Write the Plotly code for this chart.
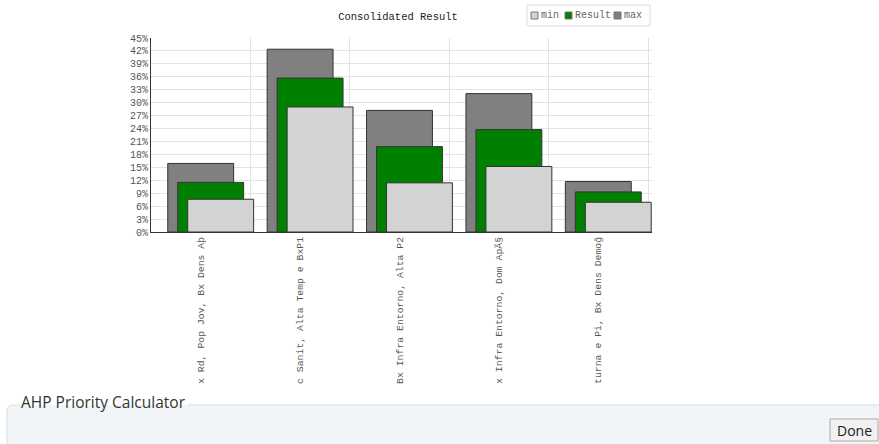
import plotly.graph_objects as go

categories = [
    "x Rd, Pop Jov, Bx Dens Aþ",
    "c Sanit, Alta Temp e BxP1",
    "Bx Infra Entorno, Alta P2",
    "x Infra Entorno, Dom ApÃ§",
    "turna e Pi, Bx Dens Demoğ",
]
max_vals = [15.9, 42.4, 28.2, 32.1, 11.7]
result_vals = [11.5, 35.7, 19.8, 23.75, 9.3]
min_vals = [7.6, 29.0, 11.4, 15.2, 6.9]
y_ticks = list(range(0, 46, 3))

W, H = 879, 444
L, R, T, B = 151, 652, 38, 232  # plot area in pixels
cat_px = 99.4
extra = (R - 648) / cat_px

def px(x):
    return (x - L) / (R - L)

def py(y):
    return (B - y) / (B - T)

idx = list(range(len(categories)))
mono = "Liberation Mono"
bw = 0.663
step = 0.1005

fig = go.Figure()
series = [("max", max_vals, "#808080", -bw / 2),
          ("Result", result_vals, "#008000", -bw / 2 + step),
          ("min", min_vals, "#d3d3d3", -bw / 2 + 2 * step)]
for name, vals, col, off in series:
    fig.add_trace(go.Bar(
        x=idx, y=vals, name=name, width=bw, offset=off, showlegend=False,
        marker=dict(color=col, line=dict(color="#333333", width=1)),
    ))

fig.update_layout(
    width=W, height=H,
    margin=dict(l=L, r=W - R, t=T, b=H - B),
    paper_bgcolor="white", plot_bgcolor="white",
    barmode="overlay",
    title=dict(text="Consolidated Result", x=px(398), xref="paper", xanchor="center",
               y=1 - 16 / H, yanchor="middle",
               font=dict(family=mono, size=10.5, color="#222")),
    xaxis=dict(range=[-0.5, len(categories) - 0.5 + extra], tickmode="array", tickvals=idx,
               ticktext=categories, tickangle=-90, showgrid=False, zeroline=False,
               showline=True, linecolor="#333", linewidth=1,
               tickfont=dict(family=mono, size=9.8, color="#555"),
               minor=dict(tickmode="linear", tick0=0.5, dtick=1, showgrid=True,
                          gridcolor="#e3e3e3", gridwidth=1)),
    yaxis=dict(range=[0, 45], tickmode="array", tickvals=y_ticks,
               ticktext=[f"{v}%" for v in y_ticks], showgrid=True, gridcolor="#e3e3e3",
               zeroline=False, showline=True, linecolor="#333", linewidth=1,
               tickfont=dict(family=mono, size=10, color="#555")),
)

# Custom legend
fig.add_shape(type="rect", xref="paper", yref="paper", x0=px(527), x1=px(650),
              y0=py(26), y1=py(5), fillcolor="white", line=dict(color="#dddddd", width=1))
legend_items = [("min", "#d3d3d3", 531), ("Result", "#008000", 565), ("max", "#808080", 614)]
for name, col, x0 in legend_items:
    fig.add_shape(type="rect", xref="paper", yref="paper", x0=px(x0), x1=px(x0 + 7),
                  y0=py(19), y1=py(12), fillcolor=col, line=dict(color="#777", width=1))
    fig.add_annotation(text=name, xref="paper", yref="paper", x=px(x0 + 8), y=py(15.5),
                       xanchor="left", yanchor="middle", showarrow=False,
                       font=dict(family=mono, size=10, color="#666"))

# Fieldset box at bottom
fx0, fy0, fx1, fy1, r = 7, 405, 900, 470, 6
path = (f"M {px(18)},{py(fy0)} L {px(fx0 + r)},{py(fy0)} "
        f"Q {px(fx0)},{py(fy0)} {px(fx0)},{py(fy0 + r)} "
        f"L {px(fx0)},{py(fy1)} L {px(fx1)},{py(fy1)} L {px(fx1)},{py(fy0)} "
        f"L {px(188)},{py(fy0)}")
fig.add_shape(type="path", xref="paper", yref="paper", path=path,
              fillcolor="#f2f5f8", line=dict(color="#d8dde2", width=1), layer="below")
fig.add_annotation(text="AHP Priority Calculator", xref="paper", yref="paper",
                   x=px(19), y=py(402), xanchor="left", yanchor="middle", showarrow=False,
                   font=dict(family="Open Sans", size=15.5, color="#333"))
# Done button
fig.add_shape(type="rect", xref="paper", yref="paper", x0=px(830), x1=px(878),
              y0=py(419), y1=py(441), fillcolor="#f1f1f1",
              line=dict(color="#a9a9a9", width=1))
fig.add_annotation(text="Done", xref="paper", yref="paper", x=px(854), y=py(430),
                   xanchor="center", yanchor="middle", showarrow=False,
                   font=dict(family="Open Sans", size=14, color="#222"))

fig.write_html("out.html")
